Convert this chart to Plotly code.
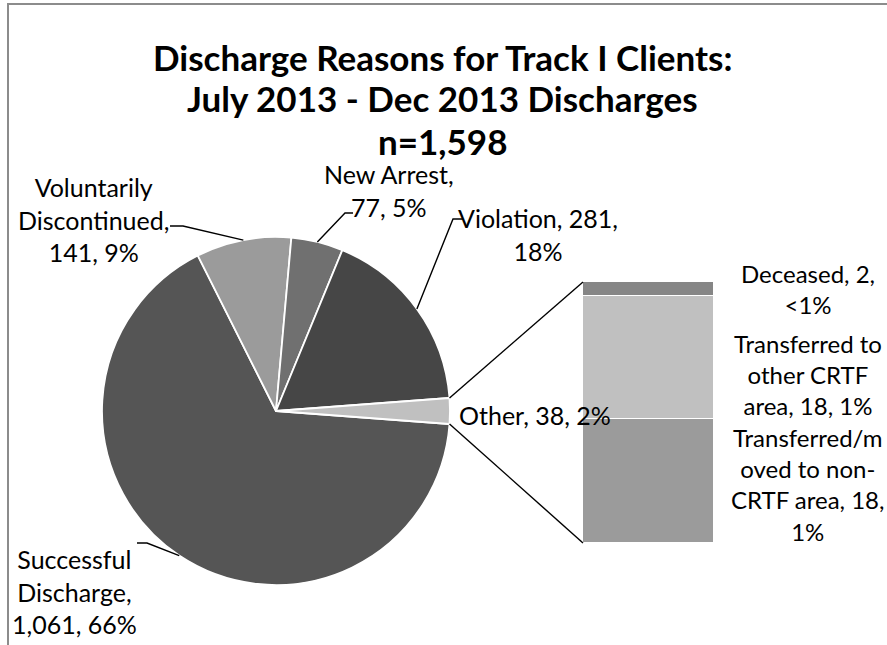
import math
import plotly.graph_objects as go

# ---------------- data ----------------
pie_labels = ["Successful Discharge", "Voluntarily Discontinued", "New Arrest", "Violation", "Other"]
pie_values = [1061, 141, 77, 281, 38]
pie_colors = ["#555555", "#9b9b9b", "#707070", "#464646", "#c0c0c0"]

bar_labels = ["Transferred/moved to non-CRTF area", "Transferred to other CRTF area", "Deceased"]
bar_values = [18, 18, 2]
bar_colors = ["#9b9b9b", "#c0c0c0", "#868686"]

label_texts = {
    "Successful Discharge": "Successful<br>Discharge,<br>1,061, 66%",
    "Voluntarily Discontinued": "Voluntarily<br>Discontinued,<br>141, 9%",
    "New Arrest": "New Arrest,<br>77, 5%",
    "Violation": "Violation, 281,<br>18%",
    "Other": "Other, 38, 2%",
    "Deceased": "Deceased, 2,<br><1%",
    "Transferred to other CRTF area": "Transferred to<br>other CRTF<br>area, 18, 1%",
    "Transferred/moved to non-CRTF area": "Transferred/m<br>oved to non-<br>CRTF area, 18,<br>1%",
}

title_lines = ["Discharge Reasons for Track I Clients:", "July 2013 - Dec 2013 Discharges", "n=1,598"]

# ---------------- layout helpers ----------------
W, H = 887, 645
FONT = "Lato, 'Open Sans', sans-serif"


def X(px):
    return px / W


def Y(py):
    return 1 - py / H


# pie geometry (px)
CX, CY, R = 276, 411, 174
total = sum(pie_values)
other_span = pie_values[-1] / total * 360
rotation = 90 + other_span / 2  # "Other" slice centred at 3 o'clock


def slice_angles():
    out = []
    a = rotation
    for v in pie_values:
        span = v / total * 360
        out.append((a, a + span))
        a += span
    return out


def edge_point(theta_deg, r=R):
    t = math.radians(theta_deg)
    return CX + r * math.sin(t), CY - r * math.cos(t)


angles = slice_angles()

fig = go.Figure()

fig.add_trace(go.Pie(
    labels=pie_labels, values=pie_values, sort=False, direction="clockwise",
    rotation=rotation,
    marker=dict(colors=pie_colors, line=dict(color="white", width=1.8)),
    textinfo="none", hoverinfo="skip", showlegend=False,
    domain=dict(x=[X(CX - R), X(CX + R)], y=[Y(CY + R), Y(CY - R)]),
))

# bar (second plot) of pie
bar_dom_x = [X(583), X(714)]
bar_dom_y = [Y(543), Y(282)]
for lab, val, col in zip(bar_labels, bar_values, bar_colors):
    fig.add_trace(go.Bar(
        x=["Other"], y=[val], name=lab, marker=dict(color=col, line=dict(color="white", width=1.5)),
        showlegend=False, hoverinfo="skip", width=1,
    ))

fig.update_layout(
    width=W, height=H, margin=dict(l=0, r=0, t=0, b=0),
    paper_bgcolor="white", plot_bgcolor="white",
    barmode="stack", bargap=0,
    xaxis=dict(domain=bar_dom_x, range=[-0.5, 0.5], visible=False, fixedrange=True),
    yaxis=dict(domain=bar_dom_y, range=[0, sum(bar_values)], visible=False, fixedrange=True),
    font=dict(family=FONT, color="black"),
)

shapes = []
# chart border
shapes.append(dict(type="rect", xref="paper", yref="paper", x0=X(8), y0=Y(H + 20), x1=X(W + 20), y1=Y(4),
                   line=dict(color="#8c8c8c", width=2), fillcolor="rgba(0,0,0,0)", layer="below"))

# connector lines pie -> bar
o_start, o_end = angles[-1]
p_top = edge_point(o_start)
p_bot = edge_point(o_end)
bar_left_px = bar_dom_x[0] * W
bar_top_px = (1 - bar_dom_y[1]) * H
bar_bot_px = (1 - bar_dom_y[0]) * H
for (px, py), by in [(p_top, bar_top_px), (p_bot, bar_bot_px)]:
    shapes.append(dict(type="line", xref="paper", yref="paper",
                       x0=X(px), y0=Y(py), x1=X(bar_left_px), y1=Y(by),
                       line=dict(color="black", width=1.4)))

# leader lines: slice midpoint on rim -> elbow -> end
leaders = {
    "Successful Discharge": [(147, 543), (137, 543)],
    "Voluntarily Discontinued": [(183, 226), (170, 226)],
    "New Arrest": [(345, 213), (353, 213)],
    "Violation": [(453, 219), (463, 219)],
}
for i, lab in enumerate(pie_labels):
    if lab not in leaders:
        continue
    a0, a1 = angles[i]
    sx, sy = edge_point((a0 + a1) / 2)
    pts = [(sx, sy)] + leaders[lab]
    path = "M " + " L ".join(f"{X(px)},{Y(py)}" for px, py in pts)
    shapes.append(dict(type="path", xref="paper", yref="paper", path=path,
                       line=dict(color="black", width=1.4)))

fig.update_layout(shapes=shapes)

# annotations
ann = []
title_pos = [57, 98, 141]
for txt, py in zip(title_lines, title_pos):
    ann.append(dict(text=f"<b>{txt}</b>", x=X(442), y=Y(py), xref="paper", yref="paper",
                    showarrow=False, xanchor="center", yanchor="middle",
                    font=dict(size=35, family=FONT, color="black")))

label_pos = {
    "Voluntarily Discontinued": (93, 219, "center", 25),
    "New Arrest": (389, 190, "center", 25),
    "Violation": (538, 234, "center", 25),
    "Other": (457, 415, "left", 25),
    "Successful Discharge": (74, 591, "center", 25),
    "Deceased": (808, 289, "center", 24),
    "Transferred to other CRTF area": (808, 374, "center", 24),
    "Transferred/moved to non-CRTF area": (808, 484, "center", 24),
}
for lab, (px, py, anc, fs) in label_pos.items():
    ann.append(dict(text=label_texts[lab], x=X(px), y=Y(py), xref="paper", yref="paper",
                    showarrow=False, xanchor=anc, yanchor="middle", align="center",
                    font=dict(size=fs, family=FONT, color="black")))

fig.update_layout(annotations=ann)

fig.write_html(
    "out.html",
    config={"displayModeBar": False},
    post_script="document.body.style.margin='0';document.body.style.overflow='hidden';",
)
